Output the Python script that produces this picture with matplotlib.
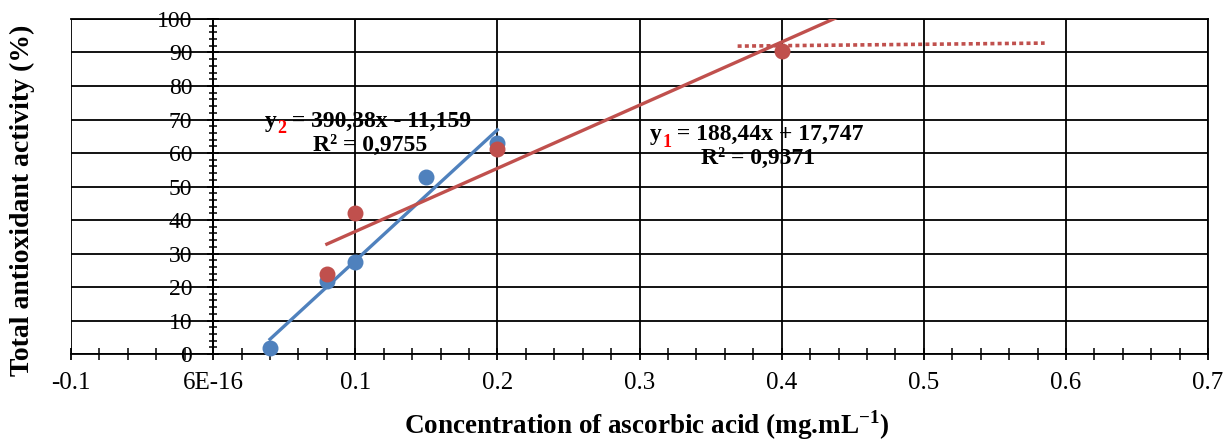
import matplotlib
matplotlib.use('Agg')
import matplotlib.pyplot as plt
from matplotlib.ticker import FixedLocator, FixedFormatter, MultipleLocator

plt.rcParams['font.family'] = 'Liberation Serif'
plt.rcParams['mathtext.fontset'] = 'custom'
plt.rcParams['mathtext.rm'] = 'Liberation Serif'
plt.rcParams['mathtext.bf'] = 'Liberation Serif:bold'

# data
blue_x = [0.04, 0.08, 0.1, 0.15, 0.2]
blue_y = [1.8, 21.8, 27.5, 52.8, 63.0]
red_x = [0.08, 0.1, 0.2, 0.4]
red_y = [23.9, 42.1, 61.2, 90.4]
# trendlines: slope, intercept, x range
blue_fit = (390.38, -11.159)
blue_fit_x = [0.04, 0.2]
red_fit = (188.44, 17.747)
red_fit_x = [0.08, 0.45]
# dotted red line
dot_x = [0.369, 0.585]
dot_y = [91.9, 92.8]

x_ticks = [-0.1, 0.0, 0.1, 0.2, 0.3, 0.4, 0.5, 0.6, 0.7]
x_labels = ['-0.1', '6E-16', '0.1', '0.2', '0.3', '0.4', '0.5', '0.6', '0.7']
y_ticks = [0, 10, 20, 30, 40, 50, 60, 70, 80, 90, 100]

blue = '#4F81BD'
red = '#C0504D'

fig = plt.figure(figsize=(12.29, 4.41), dpi=100)
ax = fig.add_axes([0.0578, 0.197, 0.9252, 0.76])

ax.set_xlim(-0.1, 0.7)
ax.set_ylim(0, 100)

# grid
ax.xaxis.set_major_locator(FixedLocator(x_ticks))
ax.xaxis.set_major_formatter(FixedFormatter(x_labels))
ax.xaxis.set_minor_locator(MultipleLocator(0.02))
ax.yaxis.set_major_locator(FixedLocator(y_ticks))
ax.yaxis.set_minor_locator(MultipleLocator(2))
ax.grid(True, which='major', color='black', linewidth=1.3)

ax.spines['left'].set_position(('data', 0))
for s in ax.spines.values():
    s.set_linewidth(1.3)
    s.set_color('black')

ax.tick_params(axis='x', which='major', direction='inout', length=8, width=1.3,
               labelsize=18, pad=9)
ax.tick_params(axis='x', which='minor', direction='inout', length=8, width=1.1)
ax.tick_params(axis='y', which='major', direction='inout', length=8, width=1.3,
               labelsize=17, pad=11)
ax.tick_params(axis='y', which='minor', direction='inout', length=6, width=1.1)

# trendlines
bx = blue_fit_x
ax.plot(bx, [blue_fit[0] * v + blue_fit[1] for v in bx], color=blue, lw=2.4, zorder=3)
rx = red_fit_x
ax.plot(rx, [red_fit[0] * v + red_fit[1] for v in rx], color=red, lw=2.4, zorder=3)
ax.plot(dot_x, dot_y, color=red, lw=2.6, linestyle=(0, (1.1, 0.9)), zorder=3)

# points
ax.scatter(blue_x, blue_y, s=110, color=blue, zorder=4, clip_on=False)
ax.scatter(red_x, red_y, s=110, color=red, zorder=4, clip_on=False)


def equation(x, y, idx, rest):
    t1 = ax.text(x, y, 'y', fontsize=17, fontweight='bold', ha='left', va='bottom', zorder=5)
    t2 = ax.annotate(idx, xy=(1, 0), xycoords=t1, xytext=(0, -4), textcoords='offset points',
                     fontsize=13, fontweight='bold', color='red', va='bottom', zorder=5)
    ax.annotate(rest, xy=(1, 0), xycoords=t2, xytext=(0, 4), textcoords='offset points',
                fontsize=17, fontweight='bold', va='bottom', zorder=5)


equation(0.0365, 66.3, '2', ' = 390,38x - 11,159')
ax.text(0.1104, 62.4, 'R² = 0,9755', fontsize=17, fontweight='bold', ha='center', va='center', zorder=5)
equation(0.3075, 62.4, '1', ' = 188,44x + 17,747')
ax.text(0.3831, 58.5, 'R² = 0,9371', fontsize=17, fontweight='bold', ha='center', va='center', zorder=5)

ax.set_xlabel(r'Concentration of ascorbic acid (mg.mL$^{\mathbf{-1}}$)', fontsize=19.5, fontweight='bold')
ax.xaxis.set_label_coords(0.506, -0.212)
ax.xaxis.label.set_va('center')
ax.set_ylabel('Total antioxidant activity (%)', fontsize=20, fontweight='bold')
ax.yaxis.set_label_coords(-0.043, 0.46)
ax.yaxis.label.set_va('center')

fig.savefig('out.png', dpi=100)
